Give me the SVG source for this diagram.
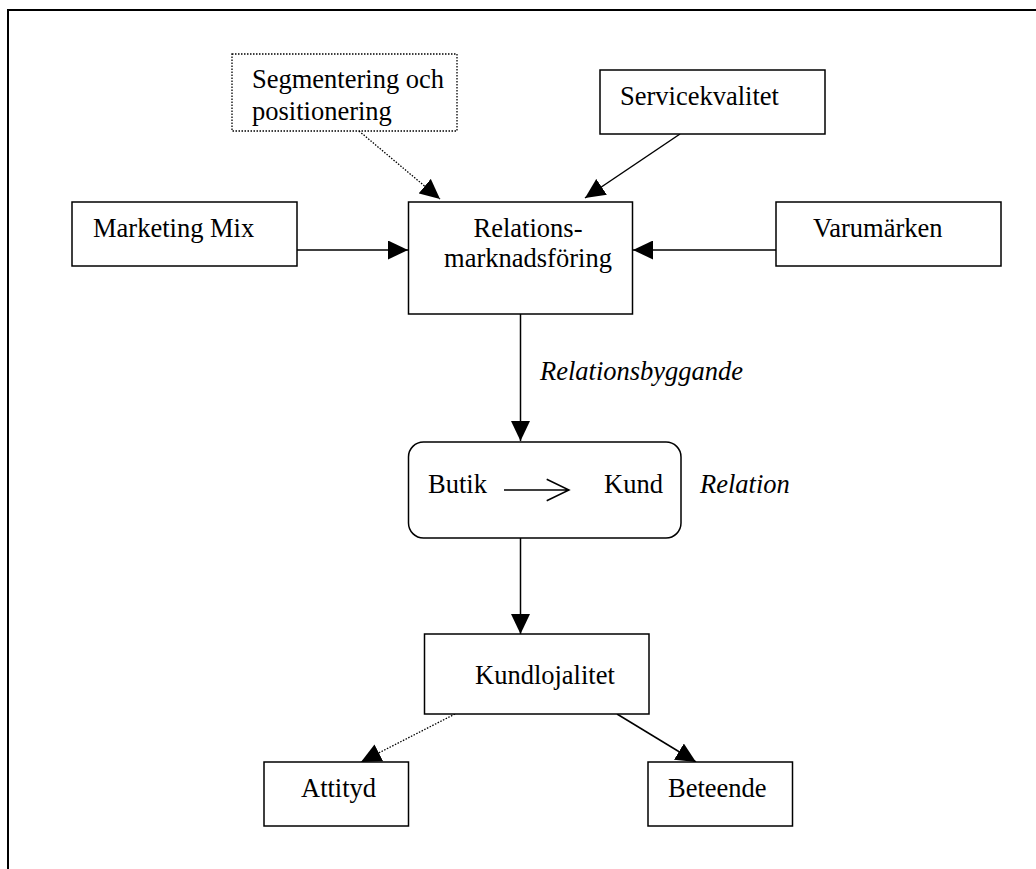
<svg xmlns="http://www.w3.org/2000/svg" width="1036" height="869" viewBox="0 0 1036 869">
<style>
.box{fill:#fff;stroke:#000;stroke-width:1.5}
.dotbox{fill:#fff;stroke:#000;stroke-width:1.3;stroke-dasharray:1.5,1.5}
.t{font-family:"Liberation Serif","Times New Roman",serif;font-size:26.5px;fill:#000}
.i{font-style:italic}
.c{stroke:#000;stroke-width:1.5;fill:none}
.d{stroke:#000;stroke-width:1.3;fill:none;stroke-dasharray:1.5,1.5}
</style>
<defs>
<marker id="ah" markerUnits="userSpaceOnUse" markerWidth="20" markerHeight="19" refX="20" refY="9.5" orient="auto">
<path d="M0,0 L20,9.5 L0,19 z" fill="#000"/>
</marker>
</defs>
<rect width="1036" height="869" fill="#fff"/>
<g id="frame">
<path d="M8,869 L8,10 L1036,10" fill="none" stroke="#000" stroke-width="2"/>
</g>
<g id="connectors">
<line class="c" x1="297" y1="250" x2="408" y2="250" marker-end="url(#ah)"/>
<line class="c" x1="776" y1="250" x2="633" y2="250" marker-end="url(#ah)"/>
<line class="c" x1="680" y1="134" x2="585" y2="198" marker-end="url(#ah)"/>
<line class="d" x1="359" y1="131" x2="440" y2="199" marker-end="url(#ah)"/>
<line class="c" x1="520.5" y1="314" x2="520.5" y2="441" marker-end="url(#ah)"/>
<line class="c" x1="520.5" y1="538" x2="520.5" y2="634" marker-end="url(#ah)"/>
<line class="d" x1="455" y1="714" x2="361" y2="762" marker-end="url(#ah)"/>
<line class="c" x1="617" y1="714" x2="696" y2="762" marker-end="url(#ah)"/>
</g>
<g id="segmentering">
<rect class="dotbox" x="232" y="54" width="225" height="77"/>
<text class="t" x="252" y="88">Segmentering och</text>
<text class="t" x="252" y="120">positionering</text>
</g>
<g id="servicekvalitet">
<rect class="box" x="600" y="70" width="225" height="64"/>
<text class="t" x="620" y="105">Servicekvalitet</text>
</g>
<g id="marketingmix">
<rect class="box" x="72" y="202" width="225" height="64"/>
<text class="t" x="93" y="237">Marketing Mix</text>
</g>
<g id="relationsmarknadsforing">
<rect class="box" x="408.5" y="202" width="224" height="112"/>
<text class="t" x="528" y="237" text-anchor="middle">Relations-</text>
<text class="t" x="528" y="267" text-anchor="middle">marknadsföring</text>
</g>
<g id="varumarken">
<rect class="box" x="776" y="202" width="225" height="64"/>
<text class="t" x="813" y="237">Varumärken</text>
</g>
<g id="relationsbyggande-label">
<text class="t i" x="540" y="380">Relationsbyggande</text>
</g>
<g id="butik-kund">
<rect class="box" x="408.5" y="442" width="272.5" height="96" rx="15" ry="15"/>
<text class="t" x="428" y="493">Butik</text>
<text class="t" x="604" y="493">Kund</text>
<path class="c" d="M504,490 L569,490 M546.7,479.3 L569,490 L546.7,500.7"/>
</g>
<g id="relation-label">
<text class="t i" x="700" y="493">Relation</text>
</g>
<g id="kundlojalitet">
<rect class="box" x="424.5" y="634" width="224.5" height="80"/>
<text class="t" x="475" y="684">Kundlojalitet</text>
</g>
<g id="attityd">
<rect class="box" x="264" y="762" width="144.5" height="64"/>
<text class="t" x="301" y="797">Attityd</text>
</g>
<g id="beteende">
<rect class="box" x="648" y="762" width="144.5" height="64"/>
<text class="t" x="668" y="797">Beteende</text>
</g>
</svg>
